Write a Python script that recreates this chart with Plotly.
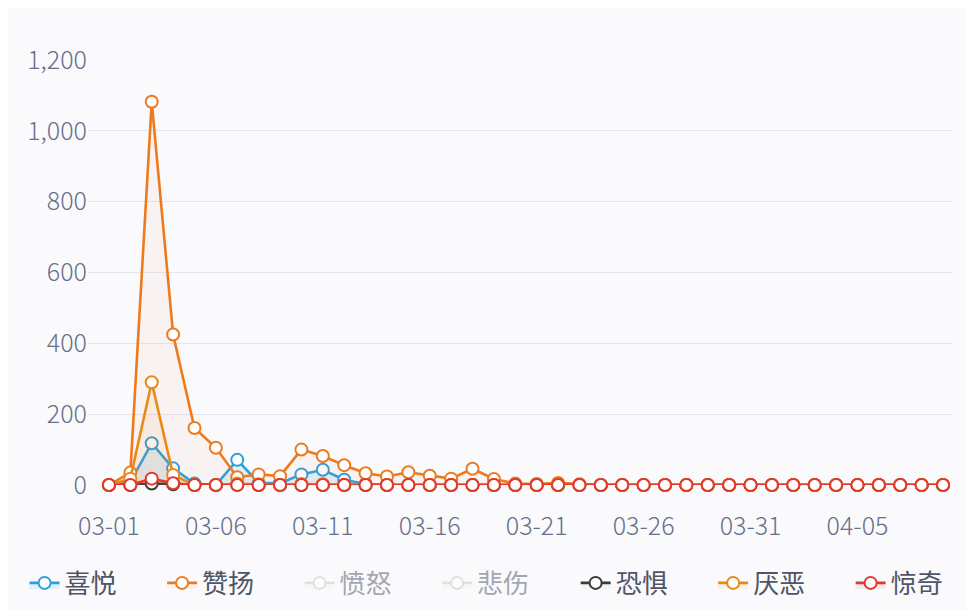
import plotly.graph_objects as go

days = ["03-%02d" % d for d in range(1, 32)] + ["04-%02d" % d for d in range(1, 10)]
tick_days = ["03-01", "03-06", "03-11", "03-16", "03-21", "03-26", "03-31", "04-05"]

joy = [0, 8, 118, 47, 4, 0, 71, 6, 5, 30, 43, 15, 3, 0, 0, 0, 0, 0, 0, 0,
       0, 0, 0, 0, 0, 0, 0, 0, 0, 0, 0, 0, 0, 0, 0, 0, 0, 0, 0, 0]
praise = [0, 35, 1082, 425, 161, 105, 22, 30, 25, 100, 82, 56, 33, 24, 36, 26, 18, 46, 17, 4,
          3, 6, 2, 0, 0, 0, 0, 0, 0, 0, 0, 0, 0, 0, 0, 0, 0, 0, 0, 0]
anger = [0] * 40
sadness = [0] * 40
fear = [0, 0, 4, 2, 0, 0, 1, 0, 0, 0, 0, 0, 0, 0, 0, 0, 0, 0, 0, 0,
        0, 0, 0, 0, 0, 0, 0, 0, 0, 0, 0, 0, 0, 0, 0, 0, 0, 0, 0, 0]
disgust = [0, 18, 290, 28, 0, 0, 4, 2, 0, 3, 2, 0, 0, 0, 0, 0, 0, 0, 0, 0,
           0, 0, 0, 0, 0, 0, 0, 0, 0, 0, 0, 0, 0, 0, 0, 0, 0, 0, 0, 0]
surprise = [0, 0, 18, 5, 0, 0, 0, 0, 0, 0, 0, 0, 0, 0, 0, 0, 0, 0, 0, 0,
            0, 0, 0, 0, 0, 0, 0, 0, 0, 0, 0, 0, 0, 0, 0, 0, 0, 0, 0, 0]

# name, values, line colour, fill colour, visible, which legend box
series = [
    ("喜悦", joy, "#2ba0dd", "rgba(43,160,221,0.12)", True, "legend"),
    ("赞扬", praise, "#ee7a1e", "rgba(240,120,80,0.06)", True, "legend"),
    ("愤怒", anger, "#c8c8c8", "rgba(200,200,200,0.1)", "legendonly", "legend"),
    ("悲伤", sadness, "#c8c8c8", "rgba(200,200,200,0.1)", "legendonly", "legend"),
    ("恐惧", fear, "#3b3b3b", "rgba(59,59,59,0.03)", True, "legend2"),
    ("厌恶", disgust, "#e98a18", "rgba(233,138,24,0.08)", True, "legend2"),
    ("惊奇", surprise, "#e6372b", "rgba(230,55,43,0.08)", True, "legend2"),
]

fig = go.Figure()
for name, vals, color, fillc, vis, leg in series:
    fig.add_trace(go.Scatter(
        x=days, y=vals, name=name, mode="lines+markers",
        line=dict(color=color, width=2.6),
        marker=dict(symbol="circle", size=12, color="white",
                    line=dict(color=color, width=2)),
        fill="tozeroy", fillcolor=fillc,
        visible=vis, cliponaxis=False, legend=leg,
    ))

legend_style = dict(
    orientation="h", yanchor="middle", y=-0.2306, xanchor="left",
    entrywidth=92.5, entrywidthmode="pixels",
    font=dict(size=26, color="#4f5566"),
    bgcolor="rgba(0,0,0,0)",
)

fig.update_layout(
    width=974, height=610,
    margin=dict(l=80, r=30, t=52, b=133, autoexpand=False),
    paper_bgcolor="#fafafc", plot_bgcolor="#fafafc",
    font=dict(family="Noto Sans CJK SC, Noto Sans, sans-serif", color="#66708a"),
    showlegend=True,
    legend=dict(x=-0.0734, **legend_style),
    legend2=dict(x=0.5644, **legend_style),
)
fig.update_xaxes(
    type="category", range=[-0.98, 39.42],
    tickvals=tick_days, ticktext=tick_days,
    showgrid=False, showline=False, zeroline=False,
    ticks="outside", ticklen=19, tickcolor="rgba(0,0,0,0)",
    tickfont=dict(size=25, color="#66708a", weight=300),
)
fig.update_yaxes(
    range=[0, 1200], dtick=200, tickformat=",d",
    gridcolor="#e3e6ee", gridwidth=1, zeroline=False, showline=False,
    tickfont=dict(size=25, color="#66708a", weight=300),
)

fig.write_html("out.html")
